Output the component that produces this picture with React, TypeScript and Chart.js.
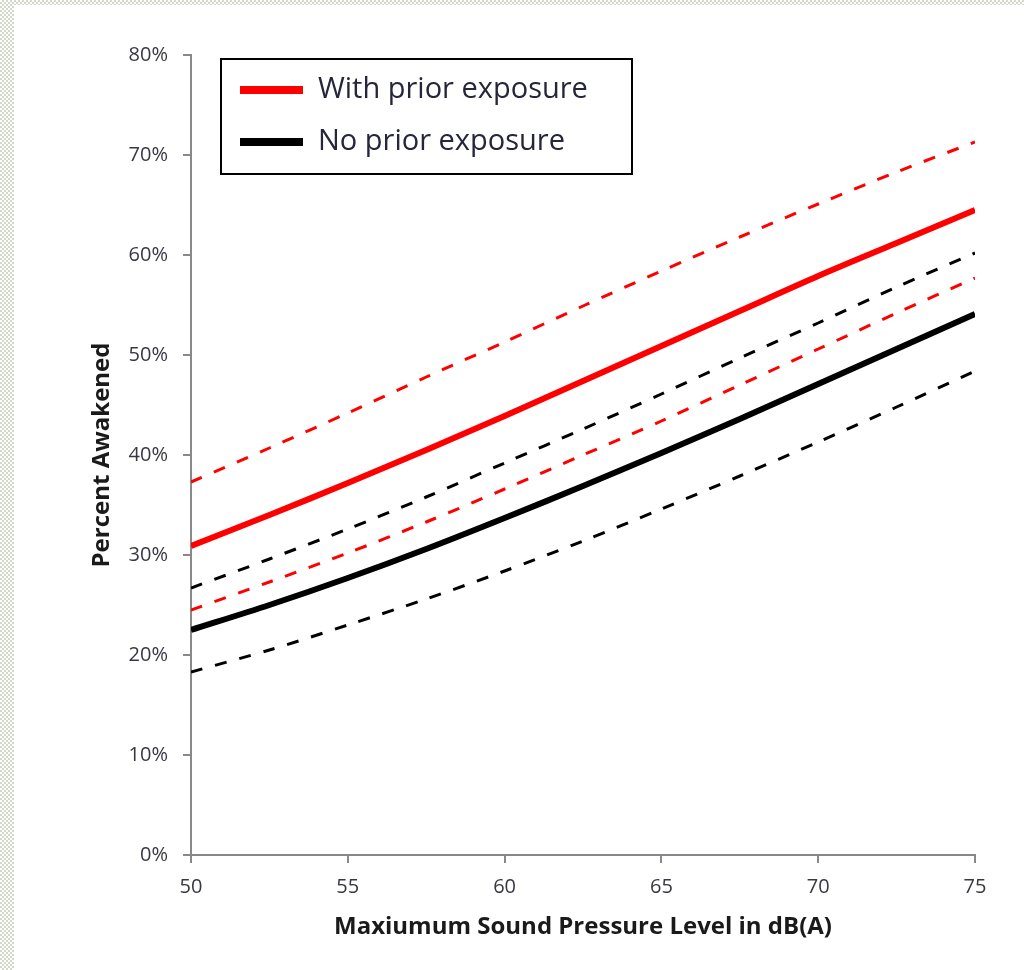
import React, { useRef, useEffect } from "react";
import { Chart, registerables } from "chart.js";

Chart.register(...registerables);

// values (percent awakened)
const soundLevels = [50, 52.5, 55, 57.5, 60, 62.5, 65, 67.5, 70, 72.5, 75];
const withExposure = [30.9, 34.0, 37.2, 40.5, 43.9, 47.4, 50.9, 54.4, 57.9, 61.2, 64.5];
const withExposureUpper = [37.3, 40.7, 44.2, 47.8, 51.3, 54.9, 58.4, 61.8, 65.1, 68.3, 71.3];
const withExposureLower = [24.5, 27.3, 30.2, 33.3, 36.6, 40.0, 43.4, 47.0, 50.6, 54.2, 57.7];
const noExposure = [22.5, 25.0, 27.7, 30.6, 33.7, 36.9, 40.2, 43.6, 47.1, 50.6, 54.1];
const noExposureUpper = [26.7, 29.6, 32.6, 35.8, 39.2, 42.6, 46.1, 49.7, 53.2, 56.8, 60.2];
const noExposureLower = [18.3, 20.5, 23.0, 25.6, 28.4, 31.4, 34.6, 37.9, 41.3, 44.8, 48.4];

const FONT = "'Open Sans', sans-serif";
const AXIS_GRAY = "#898989";
const TEXT = "#383844";

const toPoints = (ys: number[]) => soundLevels.map((x, i) => ({ x, y: ys[i] }));

// boxed legend in the upper-left of the plot, only for the solid (main) curves
const boxLegend = {
  id: "boxLegend",
  afterDraw(chart: any) {
    const { ctx, chartArea } = chart;
    const left = chartArea.left + 30;
    const top = chartArea.top + 4;
    const w = 411;
    const h = 115;
    ctx.save();
    ctx.fillStyle = "#fff";
    ctx.fillRect(left, top, w, h);
    ctx.strokeStyle = "#000";
    ctx.lineWidth = 2;
    ctx.strokeRect(left, top, w, h);
    const items = chart.data.datasets.filter((d: any) => !d.borderDash);
    items.forEach((d: any, i: number) => {
      const y = top + 31 + i * 52;
      ctx.fillStyle = d.borderColor;
      ctx.fillRect(left + 19, y - 4, 63, 8);
      ctx.fillStyle = "#26263a";
      ctx.font = `29px ${FONT}`;
      ctx.textBaseline = "middle";
      ctx.fillText(d.label, left + 97, y);
    });
    ctx.restore();
  },
};

const solid = (label: string, ys: number[], color: string) => ({
  label,
  data: toPoints(ys),
  borderColor: color,
  backgroundColor: color,
  borderWidth: 6,
  pointRadius: 0,
  tension: 0.3,
  fill: false,
});

const dashed = (label: string, ys: number[], color: string) => ({
  label,
  data: toPoints(ys),
  borderColor: color,
  backgroundColor: color,
  borderWidth: 3,
  borderDash: [12, 13],
  pointRadius: 0,
  tension: 0.3,
  fill: false,
});

const AwakeningChart: React.FC = () => {
  const chartRef = useRef<HTMLCanvasElement | null>(null);

  useEffect(() => {
    if (!chartRef.current) return;
    const ctx = chartRef.current.getContext("2d");
    if (!ctx) return;

    const chart = new Chart(ctx, {
      type: "line",
      data: {
        datasets: [
          dashed("With prior exposure (upper)", withExposureUpper, "#ff0000"),
          dashed("With prior exposure (lower)", withExposureLower, "#ff0000"),
          dashed("No prior exposure (upper)", noExposureUpper, "#000000"),
          dashed("No prior exposure (lower)", noExposureLower, "#000000"),
          solid("With prior exposure", withExposure, "#ff0000"),
          solid("No prior exposure", noExposure, "#000000"),
        ] as any,
      },
      options: {
        animation: false,
        responsive: true,
        maintainAspectRatio: false,
        layout: { padding: { left: 0, top: 55, right: 49, bottom: 0 } },
        plugins: {
          legend: { display: false },
          tooltip: { enabled: false },
        },
        scales: {
          x: {
            type: "linear",
            min: 50,
            max: 75,
            afterFit: (scale: any) => {
              scale.height = 115;
            },
            ticks: {
              stepSize: 5,
              color: TEXT,
              padding: 12,
              font: { size: 20, family: FONT },
            },
            grid: {
              drawOnChartArea: false,
              drawTicks: true,
              tickLength: 8,
              color: AXIS_GRAY,
              lineWidth: 2,
            },
            border: { color: AXIS_GRAY, width: 2 },
            title: {
              display: true,
              text: "Maxiumum Sound Pressure Level in dB(A)",
              color: "#1a1a1a",
              padding: { top: 0, bottom: 28 },
              font: { size: 24, weight: "bold", family: FONT },
            },
          },
          y: {
            min: 0,
            max: 80,
            afterFit: (scale: any) => {
              scale.width = 191;
            },
            ticks: {
              stepSize: 10,
              color: TEXT,
              padding: 15,
              font: { size: 20, family: FONT },
              callback: (v: any) => `${v}%`,
            },
            grid: {
              drawOnChartArea: false,
              drawTicks: true,
              tickLength: 8,
              color: AXIS_GRAY,
              lineWidth: 2,
            },
            border: { color: AXIS_GRAY, width: 2 },
            title: {
              display: true,
              text: "Percent Awakened",
              color: "#1a1a1a",
              padding: { top: 88, bottom: 0 },
              font: { size: 24, weight: "bold", family: FONT },
            },
          },
        },
      },
      plugins: [boxLegend],
    });

    return () => {
      chart.destroy();
    };
  }, []);

  return <canvas ref={chartRef} />;
};

const App: React.FC = () => {
  return (
    <div
      style={{
        position: "absolute",
        left: 0,
        top: 0,
        width: 1024,
        height: 970,
        background: "repeating-conic-gradient(#d3d7c8 0 25%, #ffffff 0 50%) 0 0 / 4px 4px",
      }}
    >
      <div style={{ position: "absolute", left: 14, top: 5, right: 0, bottom: 0, background: "#fff" }} />
      <div style={{ position: "absolute", left: 0, top: 0, width: 1024, height: 970 }}>
        <AwakeningChart />
      </div>
    </div>
  );
};

export default App;
